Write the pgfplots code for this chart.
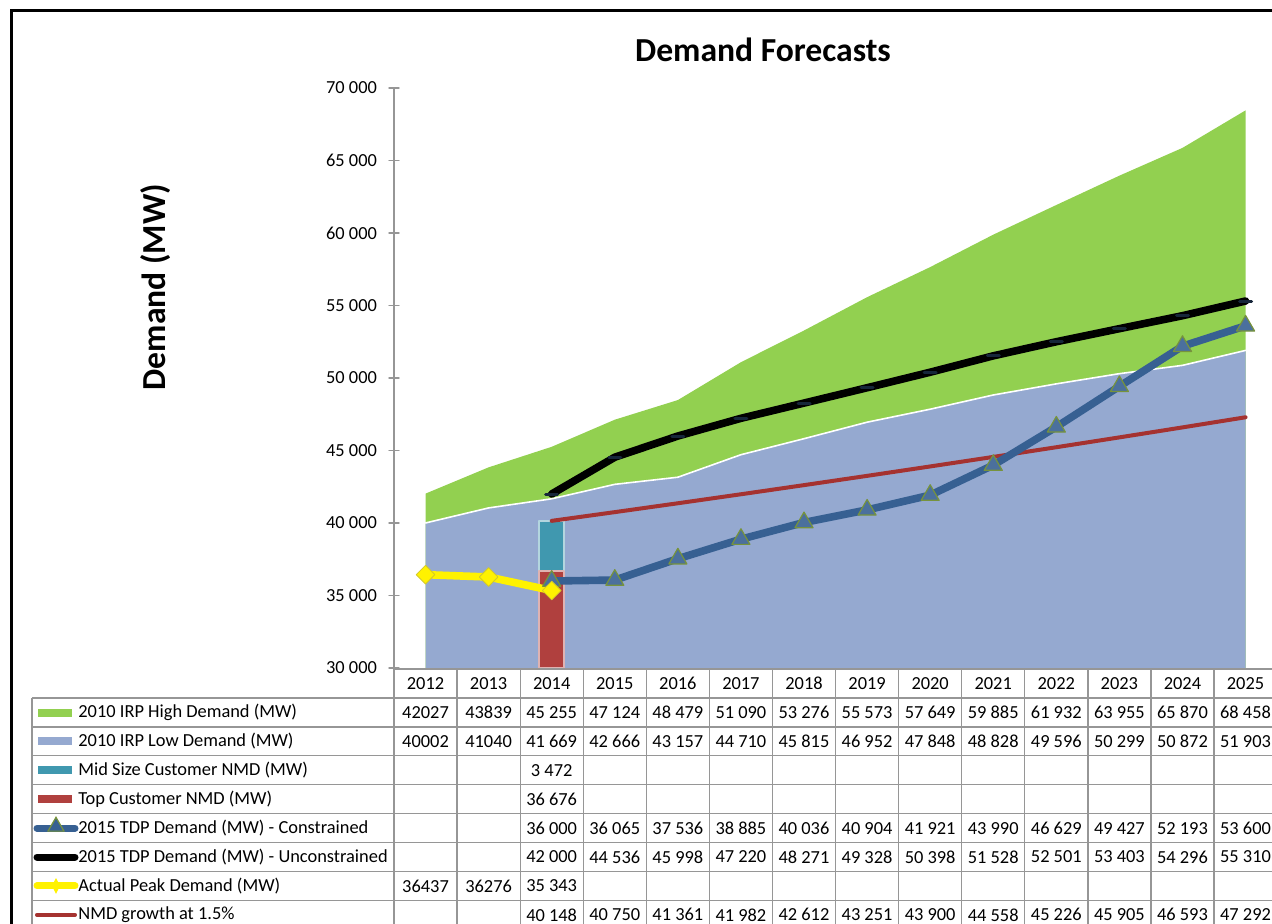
\documentclass[border=0pt]{standalone}
\usepackage{pgfplots}
\pgfplotsset{compat=1.18}
\usetikzlibrary{shapes.geometric}
\usepackage{fontspec}
\setmainfont{Carlito}
\definecolor{hi}{RGB}{146,208,80}
\definecolor{lo}{RGB}{149,169,208}
\definecolor{teal2}{RGB}{64,152,175}
\definecolor{redbar}{RGB}{176,64,62}
\definecolor{tdp}{RGB}{55,96,146}
\definecolor{nmd}{RGB}{165,50,48}
\definecolor{gridc}{RGB}{150,150,150}
\definecolor{trigreen}{RGB}{119,147,60}
\newcommand\tabrow[3]{\foreach \v [count=\i from #2] in {#3} \node at ({425.5+63.08*\i},{712.5+28.9*#1}) {\v};}
\begin{document}
\begin{tikzpicture}
\begin{axis}[
  at={(197pt,-334pt)}, anchor=south west,
  scale only axis, width=441.55pt, height=290pt,
  xmin=-0.5, xmax=13.5, ymin=30000, ymax=70000,
  axis y line*=left, axis x line=none,
  xtick=\empty,
  ytick={30000,35000,...,70000},
  scaled y ticks=false,
  tick align=center, major tick length=5pt,
  y axis line style={gridc, line width=0.7pt},
  ytick style={gridc, line width=0.7pt},
  yticklabel style={font=\fontsize{9.2}{10}\selectfont, xshift=-2.5pt},
  /pgf/number format/1000 sep={\ },
  /pgf/number format/assume math mode=true,
  line join=round, line cap=round,
]
\addplot[fill=hi, draw=none] coordinates {(0,42027)(1,43839)(2,45255)(3,47124)(4,48479)(5,51090)(6,53276)(7,55573)(8,57649)(9,59885)(10,61932)(11,63955)(12,65870)(13,68458)} \closedcycle;
\addplot[fill=lo, draw=none] coordinates {(0,40002)(1,41040)(2,41669)(3,42666)(4,43157)(5,44710)(6,45815)(7,46952)(8,47848)(9,48828)(10,49596)(11,50299)(12,50872)(13,51903)} \closedcycle;
\addplot[white, line width=0.8pt] coordinates {(0,40002)(1,41040)(2,41669)(3,42666)(4,43157)(5,44710)(6,45815)(7,46952)(8,47848)(9,48828)(10,49596)(11,50299)(12,50872)(13,51903)};
% stacked bar at 2014: top customer + mid size
\addplot[ybar, bar width=12.5pt, bar shift=0pt, fill=teal2, draw=white!60!teal2, line width=0.8pt] table[x=x, y expr=\thisrow{top}+\thisrow{mid}, row sep=\\] {x top mid\\ 2 36676 3472\\};
\addplot[ybar, bar width=12.5pt, bar shift=0pt, fill=redbar, draw=white!60!redbar, line width=0.8pt] coordinates {(2,36676)};
\addplot[nmd, line width=2pt] coordinates {(2,40148)(3,40750)(4,41361)(5,41982)(6,42612)(7,43251)(8,43900)(9,44558)(10,45226)(11,45905)(12,46593)(13,47292)};
\addplot[tdp, line width=3.8pt, mark=triangle*, mark size=5.2pt, mark options={fill=tdp!90!white, draw=trigreen, line width=0.6pt}] coordinates {(2,36000)(3,36065)(4,37536)(5,38885)(6,40036)(7,40904)(8,41921)(9,43990)(10,46629)(11,49427)(12,52193)(13,53600)};
\addplot[black, line width=3.8pt, mark=-, mark size=3pt, mark options={draw=tdp!40!black, line width=1.5pt}] coordinates {(2,42000)(3,44536)(4,45998)(5,47220)(6,48271)(7,49328)(8,50398)(9,51528)(10,52501)(11,53403)(12,54296)(13,55310)};
\addplot[yellow, line width=3.8pt, mark=square*, mark size=3.3pt, mark options={rotate=45, fill=yellow, draw=yellow!80!black, line width=0.4pt}] coordinates {(0,36437)(1,36276)(2,35343)};
\end{axis}
\begin{scope}[x=0.5pt, y=-0.5pt]
\node[font=\bfseries\fontsize{16.8}{20}\selectfont] at (763,50) {Demand Forecasts};
\node[rotate=90, font=\bfseries\fontsize{16.8}{20}\selectfont] at (156,287) {Demand (MW)};
\draw[line width=1.5pt] (11,940) -- (11,11) -- (1290,11);
\begin{scope}[gridc, line width=0.6pt]
\draw (394,669) -- (1290,669);
\foreach \r in {0,...,7} \draw (32,{698+28.9*\r}) -- (1290,{698+28.9*\r});
\draw (32,698) -- (32,940);
\foreach \c in {0,...,14} \draw ({394+63.08*\c},669) -- ({394+63.08*\c},940);
\end{scope}
\begin{scope}[font=\fontsize{9.2}{11}\selectfont]
\foreach \y [count=\i from 0] in {2012,2013,2014,2015,2016,2017,2018,2019,2020,2021,2022,2023,2024,2025} \node at ({425.5+63.08*\i},683.5) {\y};
\tabrow{0}{0}{42027,43839,45 255,47 124,48 479,51 090,53 276,55 573,57 649,59 885,61 932,63 955,65 870,68 458}
\tabrow{1}{0}{40002,41040,41 669,42 666,43 157,44 710,45 815,46 952,47 848,48 828,49 596,50 299,50 872,51 903}
\tabrow{2}{2}{3 472}
\tabrow{3}{2}{36 676}
\tabrow{4}{2}{36 000,36 065,37 536,38 885,40 036,40 904,41 921,43 990,46 629,49 427,52 193,53 600}
\tabrow{5}{2}{42 000,44 536,45 998,47 220,48 271,49 328,50 398,51 528,52 501,53 403,54 296,55 310}
\tabrow{6}{0}{36437,36276,35 343}
\tabrow{7}{2}{40 148,40 750,41 361,41 982,42 612,43 251,43 900,44 558,45 226,45 905,46 593,47 292}
% legend column
\fill[hi] (38,{712.5-4}) rectangle (72,{712.5+4});
\fill[lo] (38,{741.4-4}) rectangle (72,{741.4+4});
\fill[teal2] (38,{770.3-4}) rectangle (72,{770.3+4});
\fill[redbar] (38,{799.2-4}) rectangle (72,{799.2+4});
\draw[tdp, line width=3.5pt, line cap=round] (37,828.1) -- (75,828.1);
\node[draw=trigreen, fill=tdp, line width=0.6pt, regular polygon, regular polygon sides=3, inner sep=0pt, minimum size=9.2pt] at (56,826.5) {};
\draw[black, line width=3.5pt, line cap=round] (37,857) -- (75,857);
\draw[yellow, line width=3.5pt, line cap=round] (37,885.9) -- (75,885.9);
\fill[yellow] (56,878) -- (60,885.9) -- (56,893.8) -- (52,885.9) -- cycle;
\draw[nmd, line width=2pt, line cap=round] (37,914.8) -- (75,914.8);
\foreach \t [count=\k from 0] in {2010 IRP High Demand (MW),2010 IRP Low Demand (MW),Mid Size Customer NMD (MW),Top Customer NMD (MW),2015 TDP Demand (MW) - Constrained,2015 TDP Demand (MW) - Unconstrained,Actual Peak Demand (MW),NMD growth at 1.5\%}
  \node[anchor=west, inner sep=0pt] at (78,{712.5+28.9*\k}) {\t};
\end{scope}
\pgfresetboundingbox
\path[use as bounding box] (0,0) rectangle (1272,924);
\end{scope}
\end{tikzpicture}
\end{document}
